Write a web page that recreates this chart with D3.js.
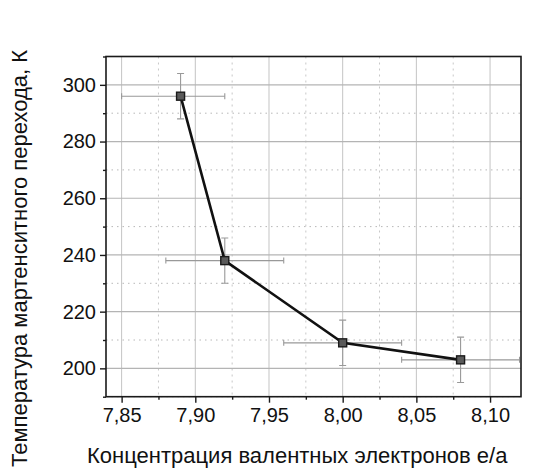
<!DOCTYPE html>
<html>
<head>
<meta charset="utf-8">
<script src="https://cdn.jsdelivr.net/npm/d3@7"></script>
<style>
body { margin: 0; background: #fff; }
svg { display: block; font-family: "Liberation Sans", Arial, sans-serif; }
</style>
</head>
<body>
<svg></svg>
<script>
// concentration e/a and transition temperature, K
var ea = [7.89, 7.92, 8.00, 8.08];
var temp = [296, 238, 209, 203];
var eaErrLow = [0.04, 0.04, 0.04, 0.04];
var eaErrHigh = [0.03, 0.04, 0.04, 0.04];
var tempErr = [8, 8, 8, 8];
var xTicks = [7.85, 7.90, 7.95, 8.00, 8.05, 8.10];
var yTicks = [200, 220, 240, 260, 280, 300];

var width = 541, height = 468;
var pLeft = 106, pRight = 521, pTop = 56.5, pBottom = 396.7;

var svg = d3.select("svg")
    .attr("width", width)
    .attr("height", height);

var x = d3.scaleLinear().domain([7.8394, 8.121]).range([pLeft, pRight]);
var y = d3.scaleLinear().domain([190, 310]).range([pBottom, pTop]);

var fmt = function(d){ return d3.format(".2f")(d).replace(".", ","); };

var xMinor = d3.range(7.875, 8.12, 0.05);
var yMinor = d3.range(190, 311, 20);

var plot = svg.append("g");

plot.append("defs").append("clipPath").attr("id", "clip")
  .append("rect")
    .attr("x", pLeft).attr("y", pTop)
    .attr("width", pRight - pLeft).attr("height", pBottom - pTop);

// grid
plot.selectAll(".gx").data(xTicks).enter().append("line")
    .attr("x1", d => x(d)).attr("x2", d => x(d))
    .attr("y1", pTop).attr("y2", pBottom)
    .style("stroke", "#c4c4c4").style("stroke-width", 1);
plot.selectAll(".gxm").data(xMinor).enter().append("line")
    .attr("x1", d => x(d)).attr("x2", d => x(d))
    .attr("y1", pTop).attr("y2", pBottom)
    .style("stroke", "#c8c8c8").style("stroke-width", 1)
    .style("stroke-dasharray", "2,4");
plot.selectAll(".gy").data(yTicks).enter().append("line")
    .attr("x1", pLeft).attr("x2", pRight)
    .attr("y1", d => y(d)).attr("y2", d => y(d))
    .style("stroke", "#b4b4b4").style("stroke-width", 1.2);
plot.selectAll(".gym").data(yMinor).enter().append("line")
    .attr("x1", pLeft).attr("x2", pRight)
    .attr("y1", d => y(d)).attr("y2", d => y(d))
    .style("stroke", "#b8b8b8").style("stroke-width", 1)
    .style("stroke-dasharray", "1.5,4");

var pts = ea.map(function(d, i){
  return {x: d, y: temp[i], xl: d - eaErrLow[i], xh: d + eaErrHigh[i], e: tempErr[i]};
});

var eb = plot.append("g").attr("clip-path", "url(#clip)")
    .style("stroke", "#999").style("stroke-width", 1.1);

// horizontal error bars
eb.selectAll(".hx").data(pts).enter().append("line")
    .attr("x1", d => x(d.xl)).attr("x2", d => x(d.xh))
    .attr("y1", d => y(d.y)).attr("y2", d => y(d.y));
eb.selectAll(".hc1").data(pts).enter().append("line")
    .attr("x1", d => x(d.xl)).attr("x2", d => x(d.xl))
    .attr("y1", d => y(d.y) - 3).attr("y2", d => y(d.y) + 3);
eb.selectAll(".hc2").data(pts).enter().append("line")
    .attr("x1", d => x(d.xh)).attr("x2", d => x(d.xh))
    .attr("y1", d => y(d.y) - 3).attr("y2", d => y(d.y) + 3);
// vertical error bars
eb.selectAll(".vy").data(pts).enter().append("line")
    .attr("x1", d => x(d.x)).attr("x2", d => x(d.x))
    .attr("y1", d => y(d.y - d.e)).attr("y2", d => y(d.y + d.e));
eb.selectAll(".vc1").data(pts).enter().append("line")
    .attr("x1", d => x(d.x) - 3.5).attr("x2", d => x(d.x) + 3.5)
    .attr("y1", d => y(d.y - d.e)).attr("y2", d => y(d.y - d.e));
eb.selectAll(".vc2").data(pts).enter().append("line")
    .attr("x1", d => x(d.x) - 3.5).attr("x2", d => x(d.x) + 3.5)
    .attr("y1", d => y(d.y + d.e)).attr("y2", d => y(d.y + d.e));

// line
plot.append("path")
    .datum(pts)
    .attr("d", d3.line().x(d => x(d.x)).y(d => y(d.y)))
    .style("fill", "none")
    .style("stroke", "#111")
    .style("stroke-width", 2.6);

// markers
plot.selectAll(".pt").data(pts).enter().append("rect")
    .attr("x", d => x(d.x) - 4).attr("y", d => y(d.y) - 4)
    .attr("width", 8).attr("height", 8)
    .style("fill", "#5a5a5a")
    .style("stroke", "#1a1a1a")
    .style("stroke-width", 1.4);

// frame
plot.append("rect")
    .attr("x", pLeft).attr("y", pTop)
    .attr("width", pRight - pLeft).attr("height", pBottom - pTop)
    .style("fill", "none").style("stroke", "#1a1a1a").style("stroke-width", 1.6);

// axes
var xAxis = svg.append("g")
    .attr("transform", "translate(0," + pBottom + ")")
    .call(d3.axisBottom(x).tickValues(xTicks).tickFormat(fmt).tickSize(6).tickPadding(5));
var xAxisMinor = svg.append("g")
    .attr("transform", "translate(0," + pBottom + ")")
    .call(d3.axisBottom(x).tickValues(xMinor).tickFormat("").tickSize(3));
var yAxis = svg.append("g")
    .attr("transform", "translate(" + pLeft + ",0)")
    .call(d3.axisLeft(y).tickValues(yTicks).tickFormat(d3.format("d")).tickSize(6).tickPadding(4));
var yAxisMinor = svg.append("g")
    .attr("transform", "translate(" + pLeft + ",0)")
    .call(d3.axisLeft(y).tickValues(yMinor).tickFormat("").tickSize(3));

[xAxis, xAxisMinor, yAxis, yAxisMinor].forEach(function(a){
  a.select(".domain").remove();
  a.selectAll("line").style("stroke", "#1a1a1a").style("stroke-width", 1.4);
  a.selectAll("text")
    .style("font-family", "'Liberation Sans', Arial, sans-serif")
    .style("font-size", "20px")
    .style("fill", "#111");
});

// axis titles
svg.append("text")
    .attr("x", 87).attr("y", 463)
    .style("font-size", "22px")
    .style("fill", "#111")
    .text("Концентрация валентных электронов e/a");

svg.append("text")
    .attr("transform", "translate(27,467) rotate(-90)")
    .style("font-size", "22px")
    .style("fill", "#111")
    .text("Температура мартенситного перехода, К");
</script>
</body>
</html>
